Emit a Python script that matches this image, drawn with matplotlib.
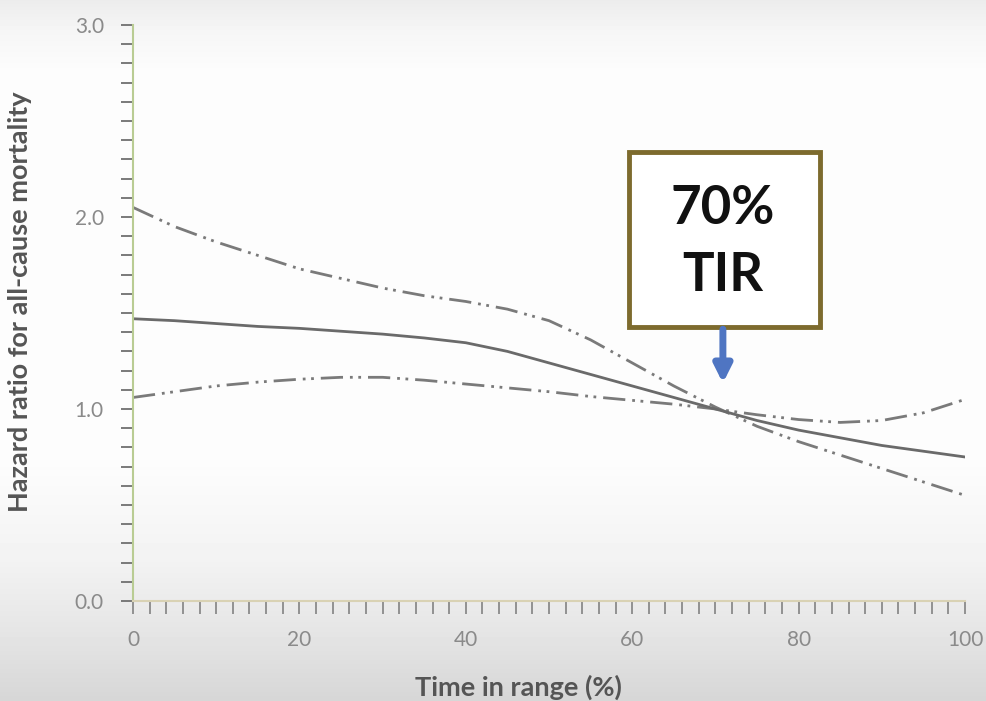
import numpy as np
import matplotlib.pyplot as plt
from matplotlib.ticker import MultipleLocator, FormatStrFormatter
from matplotlib.patches import Rectangle

plt.rcParams['font.family'] = 'Lato'

# Hazard ratio curve (solid) and confidence bands (dash-dot-dot)
tir = [0, 5, 10, 15, 20, 25, 30, 35, 40, 45, 50, 55, 60, 65, 70, 75, 80, 85, 90, 95, 100]
hr_est = [1.47, 1.46, 1.445, 1.43, 1.42, 1.405, 1.39, 1.37, 1.345, 1.30, 1.24, 1.18,
          1.12, 1.06, 1.00, 0.94, 0.89, 0.85, 0.81, 0.78, 0.75]
hr_upper = [2.05, 1.95, 1.87, 1.80, 1.73, 1.68, 1.63, 1.59, 1.56, 1.52, 1.46, 1.36,
            1.24, 1.12, 1.01, 0.91, 0.83, 0.76, 0.69, 0.62, 0.55]
hr_lower = [1.06, 1.09, 1.12, 1.14, 1.155, 1.165, 1.165, 1.15, 1.13, 1.11, 1.09, 1.065,
            1.045, 1.025, 1.00, 0.97, 0.945, 0.93, 0.94, 0.98, 1.05]

x_ticks = [0, 20, 40, 60, 80, 100]
y_ticks = [0.0, 1.0, 2.0, 3.0]
box_lines = "70%\nTIR"
box_x = 70.9

fig = plt.figure(figsize=(9.86, 7.01), dpi=100)

# Grey gradient behind everything (screenshot of a video frame)
bg = fig.add_axes([0, 0, 1, 1], zorder=-10)
rows = np.linspace(0, 1, 701)
shade = np.interp(rows, [0, 0.04, 0.10, 0.66, 0.80, 0.90, 1.0],
                  [0.925, 0.96, 0.99, 0.99, 0.95, 0.90, 0.84])
bg.imshow(shade[:, None], cmap='gray', vmin=0, vmax=1, aspect='auto', extent=(0, 1, 0, 1))
bg.axis('off')

ax = fig.add_axes([0.1349, 0.1427, 0.8438, 0.8216])
ax.set_facecolor('none')

dash_dot_dot = (0, (8, 2.5, 1, 2, 1, 2.5))
ax.plot(tir, hr_upper, color='#7a7a7a', lw=2, linestyle=dash_dot_dot)
ax.plot(tir, hr_lower, color='#7a7a7a', lw=2, linestyle=dash_dot_dot)
ax.plot(tir, hr_est, color='#6a6a6a', lw=2)

ax.set_xlim(0, 100)
ax.set_ylim(0, 3.0)
ax.set_xticks(x_ticks)
ax.set_yticks(y_ticks)
ax.xaxis.set_minor_locator(MultipleLocator(2))
ax.yaxis.set_minor_locator(MultipleLocator(0.1))
ax.yaxis.set_major_formatter(FormatStrFormatter('%.1f'))

for s in ['top', 'right']:
    ax.spines[s].set_visible(False)
ax.spines['left'].set_color('#b9cc93')
ax.spines['left'].set_linewidth(1.5)
ax.spines['bottom'].set_color('#d9d2b4')
ax.spines['bottom'].set_linewidth(1.5)

ax.tick_params(axis='y', which='both', length=9, width=1.3, color='#707070',
               labelsize=15, labelcolor='#8a8a8a', pad=12)
ax.tick_params(axis='x', which='both', length=9, width=1.3, color='#8a8a8a',
               labelsize=15, labelcolor='#8a8a8a', pad=12)

ax.set_ylabel('Hazard ratio for all-cause mortality', fontsize=19.5, fontweight='bold',
              color='#555555')
ax.yaxis.set_label_coords(-0.122, 0.52)
ax.set_xlabel('Time in range (%)', fontsize=19.5, fontweight='bold', color='#555555')
ax.xaxis.set_label_coords(0.463, -0.128)

# Annotation box and arrow
ax.add_patch(Rectangle((59.6, 1.427), 23.0, 0.913, facecolor='white', edgecolor='#7d6b2e',
                       lw=3.5, zorder=5))
ax.text(box_x, 1.87, box_lines, ha='center', va='center', fontsize=38, fontweight='bold',
        color='#111111', linespacing=1.45, zorder=6)
ax.annotate('', xy=(box_x, 1.12), xytext=(box_x, 1.43),
            arrowprops=dict(arrowstyle='-|>', color='#4f75c2', lw=5, mutation_scale=26),
            zorder=6)

fig.savefig('out.png', dpi=100)
